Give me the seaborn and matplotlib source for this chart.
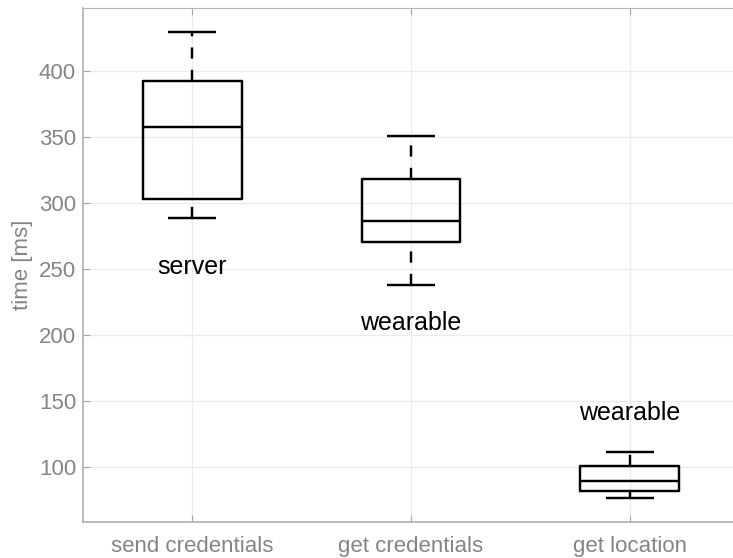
import numpy as np
import pandas as pd
import seaborn as sns
import matplotlib.pyplot as plt

# Operations measured and the device each one runs on
operations = ["send credentials", "get credentials", "get location"]
devices = ["server", "wearable", "wearable"]

# Five-number summaries of the measured times (ms)
t_min = [288.6, 237.9, 76.3]
t_q1 = [303.0, 270.5, 81.6]
t_median = [358.0, 286.8, 89.4]
t_q3 = [392.6, 318.2, 100.7]
t_max = [430.0, 351.2, 111.1]

# Vertical placement of the device annotations (ms)
label_y = [252, 209, 141]

yticks = [100, 150, 200, 250, 300, 350, 400]

rows = []
for op, lo, q1, med, q3, hi in zip(operations, t_min, t_q1, t_median, t_q3, t_max):
    for v in (lo, q1, med, q3, hi):
        rows.append({"operation": op, "time": v})
df = pd.DataFrame(rows)

sns.set_theme(style="white")
plt.rcParams["font.family"] = ["Liberation Sans", "DejaVu Sans"]
plt.rcParams["xtick.direction"] = "in"
plt.rcParams["ytick.direction"] = "in"

grey_text = "#858585"
grey_axis = "#a8a8a8"

fig = plt.figure(figsize=(7.33, 5.58), dpi=100)
ax = fig.add_axes([83 / 733, 36 / 558, 656 / 733, 514 / 558])

lw = 1.75
dash = (0, (4.6, 4.6))
sns.boxplot(
    data=df, x="operation", y="time", order=operations, ax=ax,
    whis=(0, 100), width=0.45, fill=False, color="black", linecolor="black",
    linewidth=lw, showfliers=False,
    whiskerprops={"linestyle": dash, "linewidth": lw},
    capprops={"linewidth": lw},
    medianprops={"linewidth": lw, "color": "black"},
    boxprops={"linewidth": lw},
)

# whiskers: lower one runs from the minimum up to Q1; caps half the box width
for cont in ax.containers:
    if hasattr(cont, "whiskers"):
        for i, w in enumerate(cont.whiskers):
            if i % 2 == 0:
                w.set_ydata(w.get_ydata()[::-1])
        for c in cont.caps:
            xd = np.asarray(c.get_xdata(), dtype=float)
            xc = xd.mean()
            c.set_xdata([xc - 0.11, xc + 0.11])
            c.set_solid_capstyle("butt")

for i, (name, y) in enumerate(zip(devices, label_y)):
    ax.text(i, y, name, ha="center", va="center", fontsize=18, color="black")

ax.set_xlim(-0.5, 2.5)
ax.set_ylim(58.3, 448)
ax.set_yticks(yticks)
ax.set_xlabel("")
ax.set_ylabel("time [ms]", fontsize=16, color=grey_text, labelpad=4)

ax.grid(True, color="#ebebeb", linewidth=0.9)
ax.set_axisbelow(True)

ax.tick_params(axis="x", which="both", bottom=True, top=True, length=5,
               width=0.8, color=grey_axis, labelsize=16, labelcolor=grey_text, pad=10)
ax.tick_params(axis="y", which="both", left=True, right=False, length=5,
               width=0.8, color=grey_axis, labelsize=16, labelcolor=grey_text, pad=5)

for side in ("left", "bottom"):
    ax.spines[side].set_color(grey_axis)
    ax.spines[side].set_linewidth(1.1)
ax.spines["top"].set_color("#b4b4b4")
ax.spines["top"].set_linewidth(0.8)
ax.spines["right"].set_visible(False)

fig.savefig("out.png", dpi=100)
